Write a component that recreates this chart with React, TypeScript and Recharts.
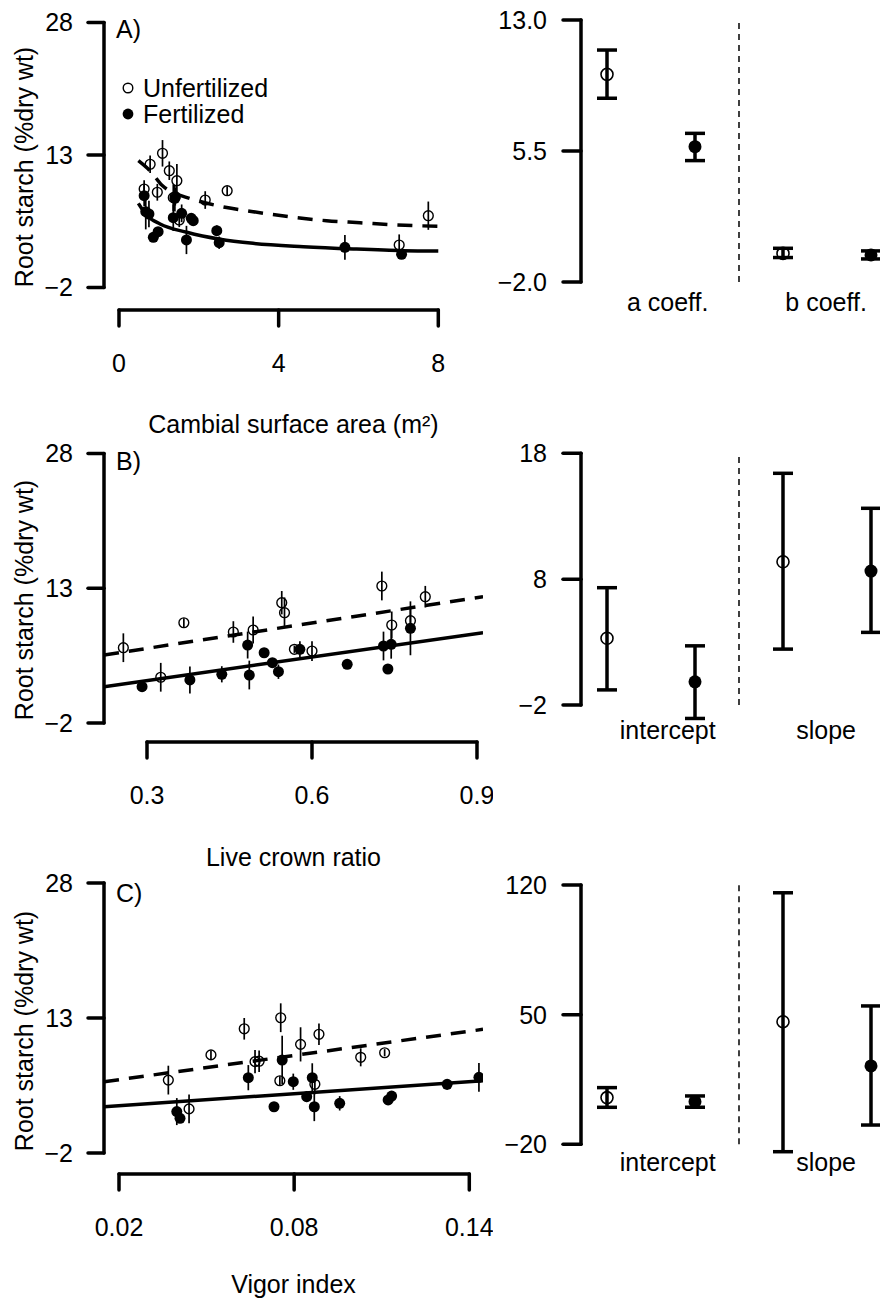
import React from 'react'
import {
  ComposedChart,
  Scatter,
  Line,
  XAxis,
  YAxis,
  ErrorBar,
  ReferenceLine,
  Legend
} from 'recharts'

interface Pt {
  x: number
  y: number
  e?: number
}

// ---------- A) root starch vs cambial surface area ----------
const cambialTicks = [0, 4, 8]
const cambialUnfert: Pt[] = [
  { x: 0.78, y: 11.95, e: 1.0 },
  { x: 1.09, y: 13.19, e: 1.5 },
  { x: 1.26, y: 11.22, e: 1.05 },
  { x: 1.45, y: 10.09, e: 1.9 },
  { x: 0.63, y: 9.15, e: 1.0 },
  { x: 0.96, y: 8.78, e: 0.95 },
  { x: 1.36, y: 8.17, e: 1.5 },
  { x: 1.41, y: 8.28, e: 1.0 },
  { x: 2.16, y: 7.9, e: 1.0 },
  { x: 2.71, y: 8.96, e: 0.5 },
  { x: 7.75, y: 6.13, e: 1.6 },
  { x: 7.02, y: 2.81, e: 1.2 },
  { x: 1.51, y: 5.64, e: 0.8 }
]
const cambialFert: Pt[] = [
  { x: 0.63, y: 8.39, e: 1.2 },
  { x: 0.67, y: 6.58, e: 2.0 },
  { x: 0.75, y: 6.32, e: 1.5 },
  { x: 0.86, y: 3.68, e: 0.5 },
  { x: 0.98, y: 4.32, e: 0.5 },
  { x: 1.36, y: 5.9, e: 1.5 },
  { x: 1.57, y: 6.4, e: 1.0 },
  { x: 1.81, y: 5.83, e: 0.5 },
  { x: 1.86, y: 5.56, e: 0.5 },
  { x: 1.69, y: 3.38, e: 1.6 },
  { x: 2.45, y: 4.43, e: 0.6 },
  { x: 2.51, y: 3.07, e: 0.7 },
  { x: 5.66, y: 2.55, e: 1.4 },
  { x: 7.08, y: 1.76, e: 0.5 },
  { x: 1.4, y: 8.1, e: 1.5 }
]
const cambialFitUnfert: Pt[] = [
  { x: 0.485, y: 12.35 }, { x: 0.82, y: 11.0 }, { x: 1.07, y: 9.6 },
  { x: 1.82, y: 8.02 }, { x: 2.15, y: 7.6 }, { x: 2.66, y: 7.08 },
  { x: 3.36, y: 6.58 }, { x: 4.37, y: 5.95 }, { x: 5.2, y: 5.56 },
  { x: 6.04, y: 5.33 }, { x: 6.96, y: 5.08 }, { x: 8.0, y: 4.93 }
]
const cambialFitFert: Pt[] = [
  { x: 0.485, y: 7.53 }, { x: 0.69, y: 6.2 }, { x: 1.03, y: 5.19 },
  { x: 1.7, y: 4.25 }, { x: 2.53, y: 3.46 }, { x: 3.36, y: 3.0 },
  { x: 4.62, y: 2.62 }, { x: 5.87, y: 2.36 }, { x: 7.12, y: 2.17 },
  { x: 8.0, y: 2.13 }
]

// ---------- B) root starch vs live crown ratio ----------
const crownTicks = [0.3, 0.6, 0.9]
const crownUnfert: Pt[] = [
  { x: 0.257, y: 6.38, e: 1.6 },
  { x: 0.367, y: 9.16, e: 0.5 },
  { x: 0.325, y: 3.09, e: 1.6 },
  { x: 0.457, y: 8.13, e: 1.2 },
  { x: 0.493, y: 8.35, e: 1.5 },
  { x: 0.545, y: 11.39, e: 1.3 },
  { x: 0.55, y: 10.28, e: 1.7 },
  { x: 0.568, y: 6.2, e: 0.4 },
  { x: 0.6, y: 6.01, e: 1.1 },
  { x: 0.727, y: 13.25, e: 1.6 },
  { x: 0.745, y: 8.91, e: 1.5 },
  { x: 0.779, y: 9.39, e: 1.3 },
  { x: 0.806, y: 12.06, e: 1.2 }
]
const crownFert: Pt[] = [
  { x: 0.291, y: 2.04, e: 0.3 },
  { x: 0.378, y: 2.79, e: 1.5 },
  { x: 0.436, y: 3.42, e: 0.9 },
  { x: 0.483, y: 6.68, e: 1.5 },
  { x: 0.486, y: 3.34, e: 1.6 },
  { x: 0.513, y: 5.82, e: 0.4 },
  { x: 0.528, y: 4.71, e: 0.3 },
  { x: 0.539, y: 3.71, e: 0.8 },
  { x: 0.578, y: 6.2, e: 0.9 },
  { x: 0.664, y: 4.53, e: 0.3 },
  { x: 0.73, y: 6.57, e: 1.6 },
  { x: 0.744, y: 6.76, e: 1.6 },
  { x: 0.738, y: 4.01, e: 0.3 },
  { x: 0.779, y: 8.54, e: 3.0 }
]
const crownFitUnfert: Pt[] = [{ x: 0.222, y: 5.57 }, { x: 0.911, y: 12.06 }]
const crownFitFert: Pt[] = [{ x: 0.222, y: 2.04 }, { x: 0.911, y: 8.05 }]

// ---------- C) root starch vs vigor index ----------
const vigorTicks = [0.02, 0.08, 0.14]
const vigorUnfert: Pt[] = [
  { x: 0.0369, y: 6.1, e: 1.6 },
  { x: 0.044, y: 2.9, e: 1.6 },
  { x: 0.0515, y: 8.9, e: 0.5 },
  { x: 0.0629, y: 11.8, e: 1.2 },
  { x: 0.0666, y: 8.15, e: 1.3 },
  { x: 0.068, y: 8.2, e: 1.2 },
  { x: 0.0754, y: 13.03, e: 1.6 },
  { x: 0.0751, y: 6.03, e: 0.5 },
  { x: 0.0822, y: 10.07, e: 1.9 },
  { x: 0.0885, y: 11.19, e: 1.2 },
  { x: 0.0871, y: 5.63, e: 1.1 },
  { x: 0.1028, y: 8.63, e: 1.0 },
  { x: 0.111, y: 9.14, e: 0.4 }
]
const vigorFert: Pt[] = [
  { x: 0.0398, y: 2.6, e: 1.5 },
  { x: 0.0409, y: 1.85, e: 0.5 },
  { x: 0.0643, y: 6.37, e: 1.4 },
  { x: 0.0731, y: 3.14, e: 0.5 },
  { x: 0.0759, y: 8.33, e: 2.7 },
  { x: 0.0797, y: 5.92, e: 0.9 },
  { x: 0.0843, y: 4.26, e: 0.6 },
  { x: 0.0862, y: 6.37, e: 1.6 },
  { x: 0.0869, y: 3.14, e: 1.6 },
  { x: 0.0956, y: 3.52, e: 0.8 },
  { x: 0.1122, y: 3.9, e: 0.4 },
  { x: 0.1134, y: 4.33, e: 0.4 },
  { x: 0.1324, y: 5.63, e: 0.6 },
  { x: 0.1433, y: 6.41, e: 1.6 }
]
const vigorFitUnfert: Pt[] = [{ x: 0.0149, y: 5.92 }, { x: 0.1447, y: 11.74 }]
const vigorFitFert: Pt[] = [{ x: 0.0149, y: 3.14 }, { x: 0.1447, y: 6.03 }]

// ---------- coefficient panels (estimate with interval) ----------
const coefGroups = ['Unfertilized', 'Fertilized', 'Unfertilized', 'Fertilized']
const coefPos = [1, 2, 3, 4]
const coefLabelPos = [1.69, 3.49]

const powerEst = [9.89, 5.75, -0.36, -0.45]
const powerLo = [8.52, 4.95, -0.6, -0.68]
const powerHi = [11.28, 6.51, -0.07, -0.22]
const powerLabels = ['a coeff.', 'b coeff.']
const powerTicks = [-2, 5.5, 13]

const crownEst = [3.3, -0.16, 9.38, 8.64]
const crownLo = [-0.8, -3.07, 2.44, 3.77]
const crownHi = [7.32, 2.7, 16.41, 13.63]
const crownCoefTicks = [-2, 8, 18]

const vigorEst = [5.2, 3.0, 46.2, 22.3]
const vigorLo = [-0.03, 0.0, -24.0, -9.6]
const vigorHi = [10.6, 6.1, 115.8, 54.7]
const vigorCoefTicks = [-20, 50, 120]

const linearLabels = ['intercept', 'slope']
const legendLabels = ['Unfertilized', 'Fertilized']
const yTitle = 'Root starch (%dry wt)'

const FONT = '"Liberation Sans", Arial, Helvetica, sans-serif'
const BLACK = '#000'
const AXIS_W = 3.5
const FS = 25

function fmtNum(v: number, digits = 0): string {
  return (v < 0 ? '\u2212' : '') + Math.abs(v).toFixed(digits)
}

function openDot(r: number, sw: number) {
  return (props: any) => (
    <circle cx={props.cx} cy={props.cy} r={r} fill="none" stroke={BLACK} strokeWidth={sw} />
  )
}

function filledDot(r: number) {
  return (props: any) => <circle cx={props.cx} cy={props.cy} r={r} fill={BLACK} />
}

function LegendBox(): React.JSX.Element {
  return (
    <svg width={200} height={60} style={{ fontFamily: FONT }}>
      <circle cx={8} cy={14} r={4.8} fill="none" stroke={BLACK} strokeWidth={1.4} />
      <text x={23} y={23} fontSize={FS} fill={BLACK}>{legendLabels[0]}</text>
      <circle cx={8} cy={40} r={5.4} fill={BLACK} />
      <text x={23} y={49} fontSize={FS} fill={BLACK}>{legendLabels[1]}</text>
    </svg>
  )
}

interface ScatterPanelProps {
  top: number
  yTicks: number[]
  yPx: [number, number] // page y of lowest / highest y tick
  xTicks: number[]
  xPx: [number, number] // page x of first / last x tick
  xAxisY: number // page y of the x axis line
  xDigits: number
  open: Pt[]
  filled: Pt[]
  fitOpen: Pt[]
  fitFilled: Pt[]
  curve: 'linear' | 'monotone'
  legend?: boolean
}

function ScatterPanel(p: ScatterPanelProps): React.JSX.Element {
  const AXIS_X = 104
  const PLOT_R = 483
  const yLo = p.yTicks[0]
  const yHi = p.yTicks[p.yTicks.length - 1]
  const ppuY = (p.yPx[0] - p.yPx[1]) / (yHi - yLo)
  const pad = 0.04 * (yHi - yLo)
  const plotTop = p.yPx[1] - pad * ppuY
  const plotBottom = p.yPx[0] + pad * ppuY
  const xLo = p.xTicks[0]
  const xHi = p.xTicks[p.xTicks.length - 1]
  const ppuX = (p.xPx[1] - p.xPx[0]) / (xHi - xLo)
  const xMin = xLo - (p.xPx[0] - AXIS_X) / ppuX
  const xMax = xLo + (PLOT_R - p.xPx[0]) / ppuX
  const axisVal = yLo - (p.xAxisY - p.yPx[0]) / ppuY
  const xAxisH = 110
  const ya = p.xAxisY - p.top

  return (
    <div style={{ position: 'absolute', left: 0, top: p.top }}>
      <ComposedChart
        width={PLOT_R + 10}
        height={plotBottom - p.top + xAxisH}
        margin={{ top: plotTop - p.top, right: 10, bottom: 0, left: 0 }}
      >
        <XAxis
          type="number"
          dataKey="x"
          domain={[xMin, xMax]}
          allowDataOverflow
          ticks={p.xTicks}
          interval={0}
          axisLine={false}
          tickLine={false}
          height={xAxisH}
          tick={(t: any) => (
            <g>
              <line x1={t.x} x2={t.x} y1={ya} y2={ya + 16} stroke={BLACK} strokeWidth={AXIS_W} strokeLinecap="round" />
              <text x={t.x} y={ya + 62} textAnchor="middle" fontSize={FS} fill={BLACK}>
                {fmtNum(t.payload.value, p.xDigits)}
              </text>
            </g>
          )}
        />
        <YAxis
          type="number"
          dataKey="y"
          domain={[yLo - pad, yHi + pad]}
          allowDataOverflow
          ticks={p.yTicks}
          interval={0}
          width={AXIS_X}
          axisLine={false}
          tickLine={{ stroke: BLACK, strokeWidth: AXIS_W, strokeLinecap: 'round' }}
          tickSize={16}
          tickMargin={15}
          tick={{ fill: BLACK, fontSize: FS }}
          tickFormatter={(v: number) => fmtNum(v)}
        />
        <ReferenceLine
          segment={[{ x: xMin, y: yLo }, { x: xMin, y: yHi }]}
          stroke={BLACK}
          strokeWidth={AXIS_W}
          strokeLinecap="round"
          ifOverflow="visible"
        />
        <ReferenceLine
          segment={[{ x: xLo, y: axisVal }, { x: xHi, y: axisVal }]}
          stroke={BLACK}
          strokeWidth={AXIS_W}
          strokeLinecap="round"
          ifOverflow="visible"
        />
        <Line
          data={p.fitOpen}
          dataKey="y"
          type={p.curve}
          stroke={BLACK}
          strokeWidth={AXIS_W}
          strokeDasharray="15 10"
          dot={false}
          activeDot={false}
          isAnimationActive={false}
        />
        <Line
          data={p.fitFilled}
          dataKey="y"
          type={p.curve}
          stroke={BLACK}
          strokeWidth={AXIS_W}
          dot={false}
          activeDot={false}
          isAnimationActive={false}
        />
        <Scatter data={p.open} shape={openDot(4.9, 1.4)} isAnimationActive={false}>
          <ErrorBar dataKey="e" direction="y" width={0} stroke={BLACK} strokeWidth={1.7} isAnimationActive={false} />
        </Scatter>
        <Scatter data={p.filled} shape={filledDot(5.5)} isAnimationActive={false}>
          <ErrorBar dataKey="e" direction="y" width={0} stroke={BLACK} strokeWidth={1.7} isAnimationActive={false} />
        </Scatter>
        {p.legend && (
          <Legend
            layout="horizontal"
            align="center"
            verticalAlign="middle"
            content={() => <LegendBox />}
            wrapperStyle={{ position: 'absolute', left: 120, top: 74 - p.top, width: 200, height: 60 }}
          />
        )}
      </ComposedChart>
    </div>
  )
}

interface CoefPanelProps {
  top: number
  yTicks: number[]
  yPx: [number, number]
  yDomain: [number, number]
  yDigits: number
  est: number[]
  lo: number[]
  hi: number[]
  labels: string[]
  labelY: number
}

function CoefPanel(p: CoefPanelProps): React.JSX.Element {
  const LEFT = 490
  const AXIS_X = 581
  const RIGHT = 880
  const yLo = p.yTicks[0]
  const yHi = p.yTicks[p.yTicks.length - 1]
  const ppuY = (p.yPx[0] - p.yPx[1]) / (yHi - yLo)
  const plotTop = p.yPx[1] - (p.yDomain[1] - yHi) * ppuY
  const plotBottom = p.yPx[0] + (yLo - p.yDomain[0]) * ppuY
  const ppuX = 88
  const firstPx = 607
  const xMin = coefPos[0] - (firstPx - AXIS_X) / ppuX
  const xMax = coefPos[0] + (RIGHT - firstPx) / ppuX
  const xAxisH = 50
  const ly = p.labelY - p.top

  const rows = p.est.map((v, i) => ({
    x: coefPos[i],
    y: v,
    err: [v - p.lo[i], p.hi[i] - v],
    group: coefGroups[i]
  }))
  const openRows = rows.filter((r) => r.group === 'Unfertilized')
  const filledRows = rows.filter((r) => r.group === 'Fertilized')

  return (
    <div style={{ position: 'absolute', left: LEFT, top: p.top }}>
      <ComposedChart
        width={RIGHT - LEFT}
        height={plotBottom - p.top + xAxisH}
        margin={{ top: plotTop - p.top, right: 0, bottom: 0, left: 0 }}
      >
        <XAxis
          type="number"
          dataKey="x"
          domain={[xMin, xMax]}
          allowDataOverflow
          ticks={coefLabelPos}
          interval={0}
          axisLine={false}
          tickLine={false}
          height={xAxisH}
          tick={(t: any) => (
            <text x={t.x} y={ly + 9} textAnchor="middle" fontSize={FS} fill={BLACK}>
              {p.labels[coefLabelPos.indexOf(t.payload.value)]}
            </text>
          )}
        />
        <YAxis
          type="number"
          dataKey="y"
          domain={p.yDomain}
          allowDataOverflow
          ticks={p.yTicks}
          interval={0}
          width={AXIS_X - LEFT}
          axisLine={false}
          tickLine={{ stroke: BLACK, strokeWidth: AXIS_W, strokeLinecap: 'round' }}
          tickSize={18}
          tickMargin={16}
          tick={{ fill: BLACK, fontSize: FS }}
          tickFormatter={(v: number) => fmtNum(v, p.yDigits)}
        />
        <ReferenceLine
          segment={[{ x: xMin, y: yLo }, { x: xMin, y: yHi }]}
          stroke={BLACK}
          strokeWidth={AXIS_W}
          strokeLinecap="round"
          ifOverflow="visible"
        />
        <ReferenceLine
          segment={[{ x: 2.5, y: yLo }, { x: 2.5, y: yHi }]}
          stroke={BLACK}
          strokeWidth={1.5}
          strokeDasharray="6 5"
          ifOverflow="visible"
        />
        <Scatter data={openRows} shape={openDot(6, 1.6)} isAnimationActive={false}>
          <ErrorBar dataKey="err" direction="y" width={10} stroke={BLACK} strokeWidth={AXIS_W} isAnimationActive={false} />
        </Scatter>
        <Scatter data={filledRows} shape={filledDot(6.5)} isAnimationActive={false}>
          <ErrorBar dataKey="err" direction="y" width={10} stroke={BLACK} strokeWidth={AXIS_W} isAnimationActive={false} />
        </Scatter>
      </ComposedChart>
    </div>
  )
}

export default function App(): React.JSX.Element {
  const letters = [
    { t: 'A)', y: 38 },
    { t: 'B)', y: 470 },
    { t: 'C)', y: 902 }
  ]
  const xTitles = [
    { t: 'Cambial surface area (m²)', y: 433 },
    { t: 'Live crown ratio', y: 866 },
    { t: 'Vigor index', y: 1293 }
  ]
  const yTitleCenters = [167, 600, 1031]

  return (
    <div
      style={{
        position: 'absolute',
        left: 0,
        top: 0,
        width: 880,
        height: 1307,
        background: '#fff',
        fontFamily: FONT,
        overflow: 'hidden'
      }}
    >
      <ScatterPanel
        top={0}
        yTicks={[-2, 13, 28]}
        yPx={[287.5, 22.5]}
        xTicks={cambialTicks}
        xPx={[119, 438.3]}
        xAxisY={310}
        xDigits={0}
        open={cambialUnfert}
        filled={cambialFert}
        fitOpen={cambialFitUnfert}
        fitFilled={cambialFitFert}
        curve="monotone"
        legend
      />
      <ScatterPanel
        top={430}
        yTicks={[-2, 13, 28]}
        yPx={[723, 453.5]}
        xTicks={crownTicks}
        xPx={[147, 477]}
        xAxisY={742}
        xDigits={1}
        open={crownUnfert}
        filled={crownFert}
        fitOpen={crownFitUnfert}
        fitFilled={crownFitFert}
        curve="linear"
      />
      <ScatterPanel
        top={860}
        yTicks={[-2, 13, 28]}
        yPx={[1153, 883]}
        xTicks={vigorTicks}
        xPx={[119, 469.3]}
        xAxisY={1174}
        xDigits={2}
        open={vigorUnfert}
        filled={vigorFert}
        fitOpen={vigorFitUnfert}
        fitFilled={vigorFitFert}
        curve="linear"
      />
      <CoefPanel
        top={0}
        yTicks={powerTicks}
        yPx={[282, 20]}
        yDomain={[-2.7, 13.7]}
        yDigits={1}
        est={powerEst}
        lo={powerLo}
        hi={powerHi}
        labels={powerLabels}
        labelY={302}
      />
      <CoefPanel
        top={420}
        yTicks={crownCoefTicks}
        yPx={[705, 453.3]}
        yDomain={[-3.6, 18.8]}
        yDigits={0}
        est={crownEst}
        lo={crownLo}
        hi={crownHi}
        labels={linearLabels}
        labelY={730}
      />
      <CoefPanel
        top={860}
        yTicks={vigorCoefTicks}
        yPx={[1144.3, 885]}
        yDomain={[-26, 125.6]}
        yDigits={0}
        est={vigorEst}
        lo={vigorLo}
        hi={vigorHi}
        labels={linearLabels}
        labelY={1162}
      />
      <svg
        width={880}
        height={1307}
        style={{ position: 'absolute', left: 0, top: 0, pointerEvents: 'none' }}
      >
        {letters.map((l) => (
          <text key={l.t} x={116} y={l.y} fontSize={FS} fill={BLACK}>{l.t}</text>
        ))}
        {xTitles.map((l) => (
          <text key={l.t} x={293.5} y={l.y} fontSize={FS} fill={BLACK} textAnchor="middle">{l.t}</text>
        ))}
        {yTitleCenters.map((c) => (
          <text
            key={c}
            x={33}
            y={c}
            fontSize={FS}
            fill={BLACK}
            textAnchor="middle"
            transform={`rotate(-90 33 ${c})`}
          >
            {yTitle}
          </text>
        ))}
      </svg>
    </div>
  )
}
